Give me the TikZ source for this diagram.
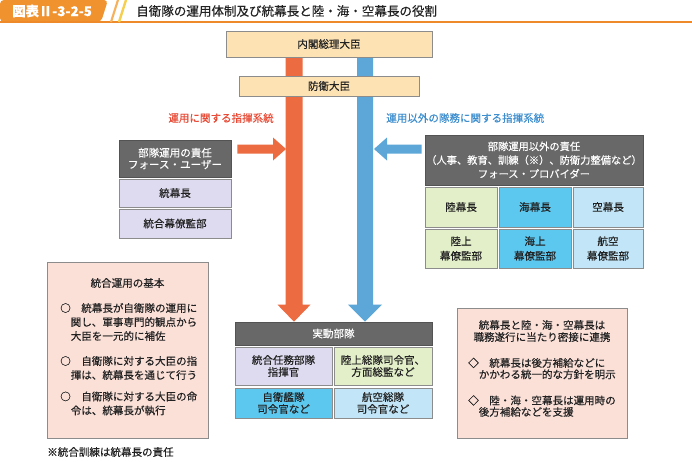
\documentclass[tikz,border=0pt]{standalone}
\usepackage{fontspec}
\setmainfont{Noto Sans CJK JP}[FakeBold=0.3]
\usetikzlibrary{calc}
\definecolor{tabor}{HTML}{F0922E}
\definecolor{lineor}{HTML}{EE8A2A}
\definecolor{slash1}{HTML}{F6B15A}
\definecolor{slash2}{HTML}{F7CF4E}
\definecolor{peach}{HTML}{FDE2B4}
\definecolor{darkg}{HTML}{686868}
\definecolor{lav}{HTML}{DEDAEF}
\definecolor{lgreen}{HTML}{E2EFC8}
\definecolor{cyanb}{HTML}{5CC7EF}
\definecolor{lblue}{HTML}{C2E6F8}
\definecolor{pinkb}{HTML}{FBE0D8}
\definecolor{redar}{HTML}{EC6B40}
\definecolor{bluear}{HTML}{5DA6D8}
\definecolor{redtx}{HTML}{E84A35}
\definecolor{bluetx}{HTML}{3C8ECF}
\definecolor{edge}{HTML}{8C8C8C}
\definecolor{ink}{HTML}{222222}
\pgfdeclarelayer{back}
\pgfsetlayers{back,main}
% \cell{style}{x1}{y1}{x2}{y2}{name} followed by {text};
\newcommand\cell[6]{\node[#1, minimum width={(#4-#2)*0.75pt}, minimum height={(#5-#3)*0.75pt}] (#6) at ({(#2+#4)/2},{(#3+#5)/2})}
\begin{document}
\begin{tikzpicture}[x=0.75pt,y=-0.75pt,
  cellbox/.style={draw=edge, line width=0.5pt, inner sep=0pt, align=center, text=ink,
    font=\fontsize{7.9}{9}\selectfont},
  peachbox/.style={cellbox, fill=peach},
  darkbox/.style={cellbox, fill=darkg, draw=darkg!80!black, text=white},
  lavbox/.style={cellbox, fill=lav},
  grnbox/.style={cellbox, fill=lgreen},
  cyabox/.style={cellbox, fill=cyanb},
  lblbox/.style={cellbox, fill=lblue},
  pnkbox/.style={cellbox, fill=pinkb},
  txt/.style={inner sep=0pt, text=ink, font=\fontsize{7.9}{10.5}\selectfont},
  itm/.style={txt, anchor=west, align=left}
]
\useasboundingbox (0,0) rectangle (692,461);
\begin{pgfonlayer}{back}
\fill[white] (0,0) rectangle (692,461);
\end{pgfonlayer}

% header
\fill[tabor, rounded corners=3pt] (0,22) -- (0,0) -- (108,0) -- (101,22) -- cycle;
\draw[lineor, line width=1.3pt] (0,22) -- (692,22);
\draw[slash1, line width=1.6pt] (111,22) -- (118,0);
\draw[slash2, line width=1.8pt] (119,22) -- (126,0);
\node[inner sep=0pt, anchor=west, text=white, font=\fontsize{10}{12}\bfseries\selectfont] (tab) at (12,11) {図表Ⅱ-3-2-5};
\node[inner sep=0pt, anchor=west, text=ink, font=\fontsize{9.4}{11}\selectfont] (title) at (136,11) {自衛隊の運用体制及び統幕長と陸・海・空幕長の役割};

% top boxes
\cell{peachbox}{226}{31}{432}{57}{pm} {内閣総理大臣};
\cell{peachbox}{239}{76}{419}{96}{md} {防衛大臣};

% labels
\node[txt, anchor=east, text=redtx] (rl) at (274,118) {運用に関する指揮系統};
\node[txt, anchor=west, text=bluetx] (bl) at (386,118) {運用以外の隊務に関する指揮系統};

% left column
\cell{darkbox, font=\fontsize{7.9}{8.8}\selectfont}{119}{140}{231}{177}{lu} {部隊運用の責任\\フォース・ユーザー};
\cell{lavbox}{119}{179}{231}{207}{tb} {統幕長};
\cell{lavbox}{119}{209}{231}{238}{tk} {統合幕僚監部};

% right column
\cell{darkbox, font=\fontsize{7.7}{10.3}\selectfont}{425}{135}{643}{185}{ru} {部隊運用以外の責任\\（人事、教育、訓練（※）、防衛力整備など）\\フォース・プロバイダー};
\cell{grnbox}{425}{187}{497}{227}{rg} {陸幕長};
\cell{cyabox}{499}{187}{571}{227}{kg} {海幕長};
\cell{lblbox}{573}{187}{643}{227}{ag} {空幕長};
\cell{grnbox, font=\fontsize{7.9}{11}\selectfont}{425}{229}{497}{268}{rk} {陸上\\幕僚監部};
\cell{cyabox, font=\fontsize{7.9}{11}\selectfont}{499}{229}{571}{268}{kk} {海上\\幕僚監部};
\cell{lblbox, font=\fontsize{7.9}{11}\selectfont}{573}{229}{643}{268}{ak} {航空\\幕僚監部};

% bottom center
\cell{darkbox}{235}{322}{432}{345}{jd} {実動部隊};
\cell{lavbox}{235}{347}{332}{385}{c1} {統合任務部隊\\指揮官};
\cell{grnbox}{334}{347}{432}{385}{c2} {陸上総隊司令官、\\方面総監など};
\cell{cyabox}{235}{388}{332}{418}{c3} {自衛艦隊\\司令官など};
\cell{lblbox}{334}{388}{432}{418}{c4} {航空総隊\\司令官など};

% left pink box
\cell{pnkbox}{47}{262}{208}{438}{kb} {};
\node[txt] (kbt) at (127.5,283) {統合運用の基本};
\node[itm] (k1) at (60,322) {○　統幕長が自衛隊の運用に\\　関し、軍事専門的観点から\\　大臣を一元的に補佐};
\node[itm] (k2) at (60,368) {○　自衛隊に対する大臣の指\\　揮は、統幕長を通じて行う};
\node[itm] (k3) at (60,403.5) {○　自衛隊に対する大臣の命\\　令は、統幕長が執行};

% right pink box
\cell{pnkbox}{457}{308}{627}{438}{rb} {};
\node[txt, align=center, font=\fontsize{7.9}{9}\selectfont] (rbt) at (542,331) {統幕長と陸・海・空幕長は\\職務遂行に当たり密接に連携};
\node[itm, font=\fontsize{7.9}{8.6}\selectfont] (r1) at (468,368.5) {◇　統幕長は後方補給などに\\　かかわる統一的な方針を明示};
\node[itm, font=\fontsize{7.9}{8.6}\selectfont] (r2) at (468,406) {◇　陸・海・空幕長は運用時の\\　後方補給などを支援};

% footnote
\node[txt, anchor=west] (fn) at (47,452) {※統合訓練は統幕長の責任};

% arrows
\coordinate (rx) at (294,0);
\coordinate (bx) at (365,0);
\coordinate (ra1) at ($(lu.east)+(6,-9.5)$);
\coordinate (ra2) at ($(rx |- ra1)+(-8,0)$);
\coordinate (ba1) at ($(ru.west)+(-3,-11)$);
\coordinate (ba2) at ($(bx |- ba1)+(9,0)$);
\begin{pgfonlayer}{back}
\fill[redar] ($(rx |- pm.south)+(-8.5,0)$) -- ($(rx |- jd.north)+(-8.5,-17)$) -- ($(rx |- jd.north)+(-16.5,-17)$) -- (rx |- jd.north) -- ($(rx |- jd.north)+(16.5,-17)$) -- ($(rx |- jd.north)+(8.5,-17)$) -- ($(rx |- pm.south)+(8.5,0)$) -- cycle;
\fill[bluear] ($(bx |- pm.south)+(-8,0)$) -- ($(bx |- jd.north)+(-8,-17)$) -- ($(bx |- jd.north)+(-17,-17)$) -- (bx |- jd.north) -- ($(bx |- jd.north)+(17,-17)$) -- ($(bx |- jd.north)+(8,-17)$) -- ($(bx |- pm.south)+(8,0)$) -- cycle;
\end{pgfonlayer}
\fill[redar] ($(ra1)+(0,-4.5)$) -- ($(ra2)+(-13,-4.5)$) -- ($(ra2)+(-13,-11.5)$) -- (ra2) -- ($(ra2)+(-13,11.5)$) -- ($(ra2)+(-13,4.5)$) -- ($(ra1)+(0,4.5)$) -- cycle;
\fill[bluear] ($(ba1)+(0,-4.5)$) -- ($(ba2)+(13,-4.5)$) -- ($(ba2)+(13,-11.5)$) -- (ba2) -- ($(ba2)+(13,11.5)$) -- ($(ba2)+(13,4.5)$) -- ($(ba1)+(0,4.5)$) -- cycle;
\end{tikzpicture}
\end{document}
